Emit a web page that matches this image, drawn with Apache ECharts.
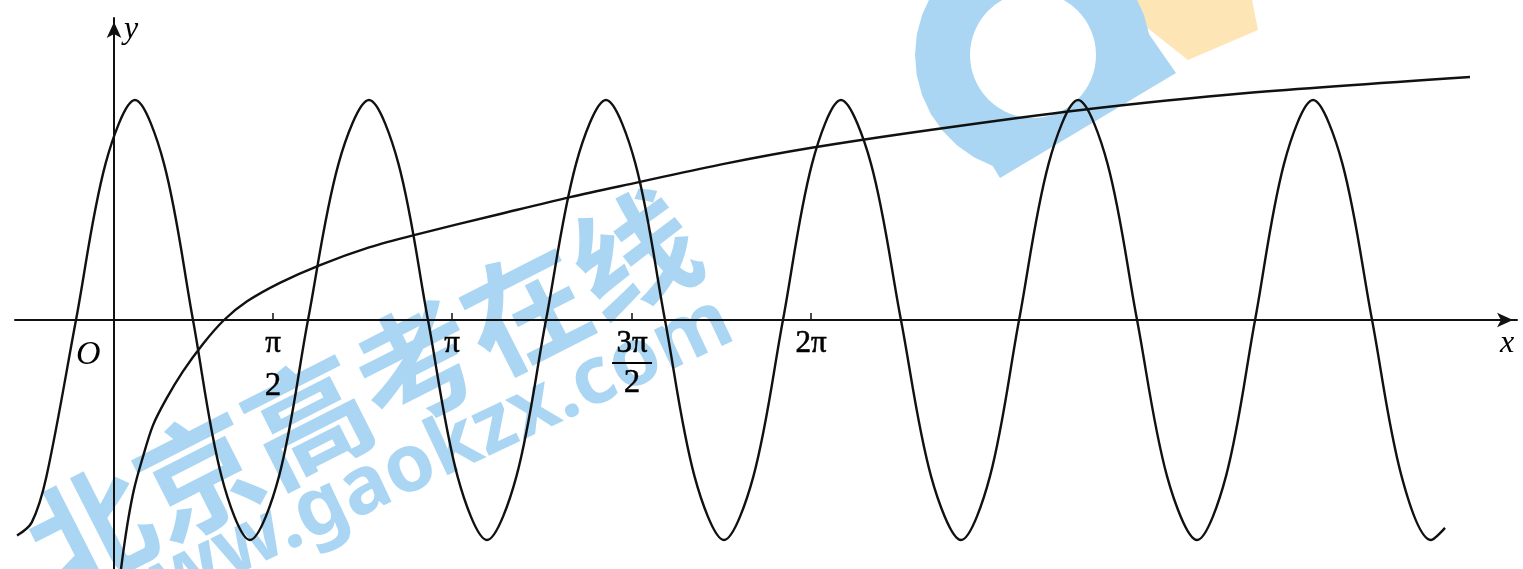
<!DOCTYPE html>
<html>
<head>
<meta charset="utf-8">
<script src="https://cdn.jsdelivr.net/npm/echarts@6/dist/echarts.min.js"></script>
<style>
  html, body { margin: 0; padding: 0; background: #fff; }
  #chart { width: 1523px; height: 569px; }
</style>
</head>
<body>
<div id="chart"></div>
<script>
// wave: read at troughs, zero crossings, peaks and the points midway between them
const waveX = [-0.875, -0.742, -0.609, -0.343, -0.077, 0.189, 0.451, 0.712, 0.969, 1.226, 1.488,
  1.749, 2.024, 2.299, 2.565, 2.831, 3.097, 3.363, 3.629, 3.895, 4.166,
  4.436, 4.702, 4.968, 5.234, 5.5, 5.766, 6.032, 6.294, 6.555, 6.826,
  7.096, 7.367, 7.638, 7.899, 8.161, 8.427, 8.693, 8.959, 9.225, 9.495,
  9.766, 10.027, 10.289, 10.55, 10.812, 11.077, 11.344, 11.61, 11.876, 12.002];
const waveY = [-0.98, -0.92, -0.71, 0, 0.71, 1, 0.71, 0, -0.71, -1, -0.71,
  0, 0.71, 1, 0.71, 0, -0.71, -1, -0.71, 0, 0.71,
  1, 0.71, 0, -0.71, -1, -0.71, 0, 0.71, 1, 0.71,
  0, -0.71, -1, -0.71, 0, 0.71, 1, 0.71, 0, -0.71,
  -1, -0.71, 0, 0.71, 1, 0.71, 0, -0.71, -1, -0.945];

// the rising log-like curve
const logX = [0.063, 0.09, 0.13, 0.18, 0.25, 0.35, 0.47, 0.62, 0.8, 0.992,
  1.2, 1.5, 1.858, 2.3, 2.705, 3.481, 4.112, 4.734, 5.5, 6.276,
  7.358, 8.72, 10.216, 12.227];
const logY = [-1.132, -1.03, -0.9, -0.77, -0.64, -0.48, -0.36, -0.235, -0.11, 0,
  0.085, 0.17, 0.25, 0.33, 0.386, 0.482, 0.559, 0.627, 0.71, 0.782,
  0.864, 0.955, 1.032, 1.105];

const tickValues = [1.434, 3.048, 4.671, 6.285];
const tickLabels = ["π/2", "π", "3π/2", "2π"];

const ink = "#000";
const serif = "'Liberation Serif', 'DejaVu Serif', serif";
const wmBlue = "#aad6f3";
const wmYellow = "#fde5b6";

function zip(xs, ys) {
  return xs.map((x, i) => [x, ys[i]]);
}

function fracLabel(t) {
  const parts = t.split("/");
  if (parts.length === 1) return "{s|" + t + "}";
  if (parts[0] === "π") return "{n|π}\n{d|" + parts[1] + "}";
  return "{n|" + parts[0] + "}\n{bar|}\n{d2|" + parts[1] + "}";
}

// outline of the logo ring, clipped by its diagonal lower edge
function logoOutline() {
  const pts = [[1000, 178]];
  for (let a = 110; a <= 350; a += 10) {
    const r = (a * Math.PI) / 180;
    pts.push([1033 + 118 * Math.cos(r), 55 + 118 * Math.sin(r)]);
  }
  pts.push([1176, 73]);
  return pts;
}

const mychart = echarts.init(document.getElementById("chart"));

const arrowLine = {
  onZero: true,
  symbol: ["none", "arrow"],
  symbolSize: [11, 16],
  symbolOffset: [0, -4],
  lineStyle: { color: "#111", width: 2 }
};

const options = {
  animation: false,
  backgroundColor: "#fff",
  grid: { left: 15, right: 6, top: 18, bottom: 0, containLabel: false, outerBoundsMode: "none" },
  xAxis: {
    type: "value",
    min: -0.893,
    max: 12.651,
    splitLine: { show: false },
    axisLine: arrowLine,
    axisTick: {
      show: true,
      inside: true,
      length: 7,
      customValues: tickValues,
      lineStyle: { color: "#111", width: 1.5 }
    },
    axisLabel: { show: false }
  },
  yAxis: {
    type: "value",
    min: -1.132,
    max: 1.373,
    splitLine: { show: false },
    axisTick: { show: false },
    axisLabel: { show: false },
    axisLine: arrowLine
  },
  series: [
    {
      name: "wave",
      type: "line",
      smooth: 0.33,
      showSymbol: false,
      clip: true,
      data: zip(waveX, waveY),
      lineStyle: { color: "#111", width: 2.4 },
      z: 3
    },
    {
      name: "log",
      type: "line",
      smooth: 0.3,
      showSymbol: false,
      clip: true,
      data: zip(logX, logY),
      lineStyle: { color: "#111", width: 2.4 },
      z: 3
    },
    {
      name: "ticks",
      type: "scatter",
      symbolSize: 0,
      silent: true,
      itemStyle: { color: ink, opacity: 1 },
      data: tickValues.map((v, i) => ({ value: [v, 0], name: tickLabels[i] })),
      label: {
        show: true,
        position: "bottom",
        distance: 9,
        color: ink,
        formatter: (p) => fracLabel(p.name),
        rich: {
          s: { fontFamily: serif, fontSize: 31, color: ink, lineHeight: 30, textBorderColor: ink, textBorderWidth: 0.6 },
          n: { fontFamily: serif, fontSize: 31, color: ink, lineHeight: 30, textBorderColor: ink, textBorderWidth: 0.6 },
          d: { fontFamily: serif, fontSize: 33, color: ink, lineHeight: 54, textBorderColor: ink, textBorderWidth: 0.4 },
          bar: { width: 40, height: 2, backgroundColor: ink, lineHeight: 8 },
          d2: { fontFamily: serif, fontSize: 33, color: ink, lineHeight: 32, textBorderColor: ink, textBorderWidth: 0.4 }
        }
      },
      z: 4
    }
  ],
  graphic: [
    {
      type: "text", left: 76, top: 338, z: 10,
      style: { text: "O", font: "italic 34px " + serif, fill: ink }
    },
    {
      type: "text", left: 1500, top: 328, z: 10,
      style: { text: "x", font: "italic 32px " + serif, fill: ink }
    },
    {
      type: "text", left: 124, top: 14, z: 10,
      style: { text: "y", font: "italic 32px " + serif, fill: ink }
    },
    // watermark, kept under the curves
    {
      type: "polygon", z: -12, silent: true,
      shape: { points: [[1112, 0], [1252, 0], [1258, 30], [1188, 60]] },
      style: { fill: wmYellow }
    },
    {
      type: "polygon", z: -11, silent: true,
      shape: { points: logoOutline(), smooth: 0 },
      style: { fill: wmBlue }
    },
    {
      type: "circle", z: -10, silent: true,
      shape: { cx: 1033, cy: 55, r: 63 },
      style: { fill: "#fff" }
    },
    {
      type: "text", x: 362, y: 392, rotation: 0.47, z: -10, silent: true,
      style: {
        text: "北京高考在线",
        font: "bold 122px 'Noto Sans CJK SC'",
        fill: wmBlue,
        align: "center",
        verticalAlign: "middle"
      }
    },
    {
      type: "text", x: 728, y: 318, rotation: 0.44, z: -10, silent: true,
      style: {
        text: "www.gaokzx.com",
        font: "bold 80px 'Noto Sans', sans-serif",
        fill: wmBlue,
        align: "right",
        verticalAlign: "middle"
      }
    }
  ]
};

mychart.setOption(options);
</script>
</body>
</html>
